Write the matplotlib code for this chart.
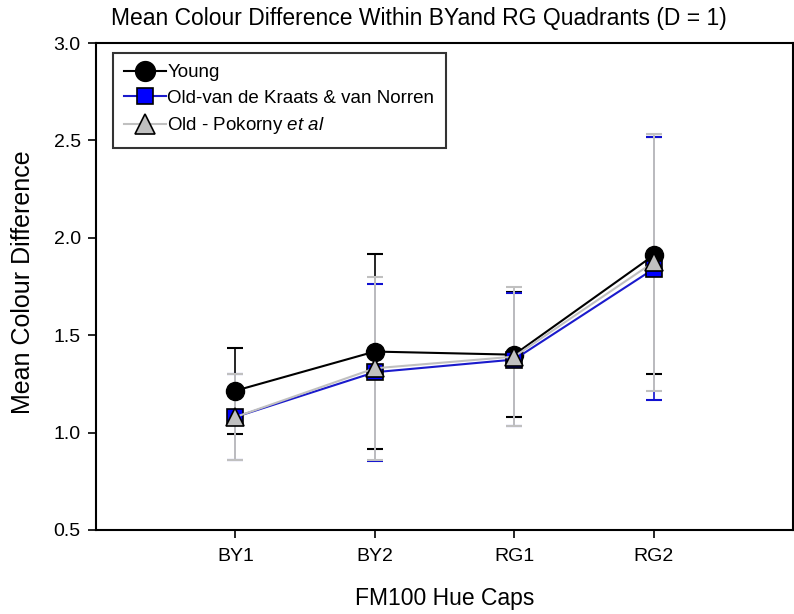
import matplotlib
matplotlib.use("Agg")
import matplotlib.pyplot as plt

plt.rcParams['font.family'] = ['Liberation Sans', 'DejaVu Sans']
plt.rcParams['mathtext.fontset'] = 'custom'
plt.rcParams['mathtext.rm'] = 'Liberation Sans'
plt.rcParams['mathtext.it'] = 'Liberation Sans:italic'

categories = ["BY1", "BY2", "RG1", "RG2"]
young_mean = [1.215, 1.416, 1.40, 1.91]
young_err = [0.22, 0.50, 0.32, 0.61]
vdk_mean = [1.08, 1.31, 1.375, 1.84]
vdk_err = [0.22, 0.455, 0.34, 0.675]
pok_mean = [1.08, 1.33, 1.39, 1.875]
pok_err = [0.22, 0.47, 0.355, 0.66]
labels = ["Young", "Old-van de Kraats & van Norren", r"Old - Pokorny $\it{et\ al}$"]
yticks = [0.5, 1.0, 1.5, 2.0, 2.5, 3.0]

W, H = 794, 614
fig = plt.figure(figsize=(W / 100, H / 100), dpi=100)
ax = fig.add_axes([96 / W, 1 - 530 / H, (793 - 96) / W, (530 - 43) / H])

x = list(range(1, len(categories) + 1))
capsize = 5.8

ax.errorbar(x, young_mean, yerr=young_err, fmt='none', ecolor='black',
            elinewidth=1.2, capsize=capsize, capthick=1.5, zorder=2)
ax.errorbar(x, vdk_mean, yerr=vdk_err, fmt='none', ecolor='#1010d0',
            elinewidth=1.2, capsize=capsize, capthick=1.5, zorder=2.1)
ax.errorbar(x, pok_mean, yerr=pok_err, fmt='none', ecolor='#c0c0c0',
            elinewidth=1.4, capsize=capsize, capthick=1.5, zorder=2.2)

l1, = ax.plot(x, young_mean, '-', color='black', lw=1.5, marker='o',
              markersize=13, markerfacecolor='black', markeredgecolor='black',
              zorder=3)
l2, = ax.plot(x, vdk_mean, '-', color='#1a1acc', lw=1.5, marker='s',
              markersize=11, markerfacecolor='#0000ff', markeredgecolor='black',
              markeredgewidth=1.2, zorder=3.1)
l3, = ax.plot(x, pok_mean, '-', color='#c0c0c0', lw=1.5, marker='^',
              markersize=13, markerfacecolor='#c0c0c0', markeredgecolor='black',
              markeredgewidth=1.2, zorder=3.2)

ax.set_xlim(0, 5)
ax.set_ylim(0.5, 3.0)
ax.set_xticks(x)
ax.set_xticklabels(categories)
ax.set_yticks(yticks)
ax.set_yticklabels([f"{v:.1f}" for v in yticks])
ax.tick_params(axis='both', direction='out', length=6, width=1.2,
               labelsize=14, pad=5, color='black')
ax.tick_params(axis='x', pad=7)
for s in ax.spines.values():
    s.set_linewidth(1.5)

ax.set_xlabel("FM100 Hue Caps", fontsize=16.5)
ax.xaxis.set_label_coords(0.5, -0.14)
ax.xaxis.label.set_va('center')
ax.set_ylabel("Mean Colour Difference", fontsize=18)
ax.yaxis.set_label_coords(-0.105, 0.509)
ax.yaxis.label.set_va('center')

leg = ax.legend([l1, l2, l3], labels, loc='upper left',
                bbox_to_anchor=((113 - 96) / 697, (530 - 53) / 487),
                borderaxespad=0, fontsize=13.5, frameon=True, fancybox=False,
                handlelength=2.2, labelspacing=0.45, handletextpad=0.1,
                borderpad=0.6, markerscale=1.1)
leg.get_frame().set_edgecolor('black')
leg.get_frame().set_linewidth(1.5)

fig.text(419 / W, 1 - 18 / H, "Mean Colour Difference Within BYand RG Quadrants (D = 1)",
         ha='center', va='center', fontsize=16.5)

fig.savefig("out.png", dpi=100)
